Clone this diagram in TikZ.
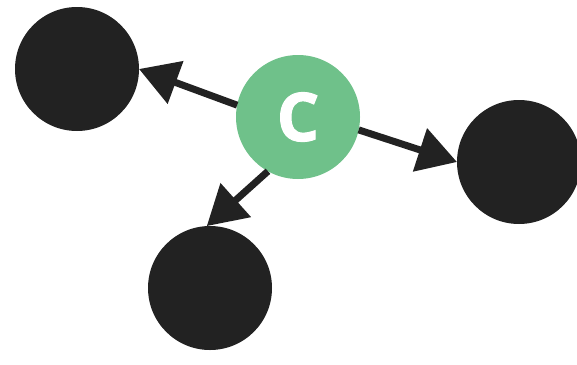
\documentclass[tikz,border=0pt]{standalone}
\usepackage{fontspec}
\newfontfamily\letterfont[UprightFont={* Bold}, FakeBold=1.6]{Open Sans}
\usetikzlibrary{arrows.meta}
\usetikzlibrary{shapes,positioning}
\definecolor{nodedark}{HTML}{222222}
\definecolor{nodegreen}{HTML}{6FC18A}
\tikzset{
    blob/.style={circle, fill=nodedark, minimum size=124pt, inner sep=0pt, outer sep=0pt},
    hub/.style={blob, fill=nodegreen, text=white, font=\letterfont\fontsize{67}{67}\selectfont},
    link/.style={draw=nodedark, line width=7pt, -{Triangle[length=39pt, width=44pt]}}
}

\begin{document}
\begin{tikzpicture}[x=1pt, y=-1pt]
            \useasboundingbox (0,0) rectangle (577,364);
            \node[hub] (center) at (298,117) {C};
            \node[blob] (top-left) at (77,69) {};
            \node[blob] (right) at (519,162) {};
            \node[blob] (bottom) at (210,288) {};
            \draw[link] (center.169) -- (top-left.0);
            \draw[link] (center.-12) -- (right.180);
            \draw[link] (center.-119) -- (bottom.93);
        \end{tikzpicture}
\end{document}
